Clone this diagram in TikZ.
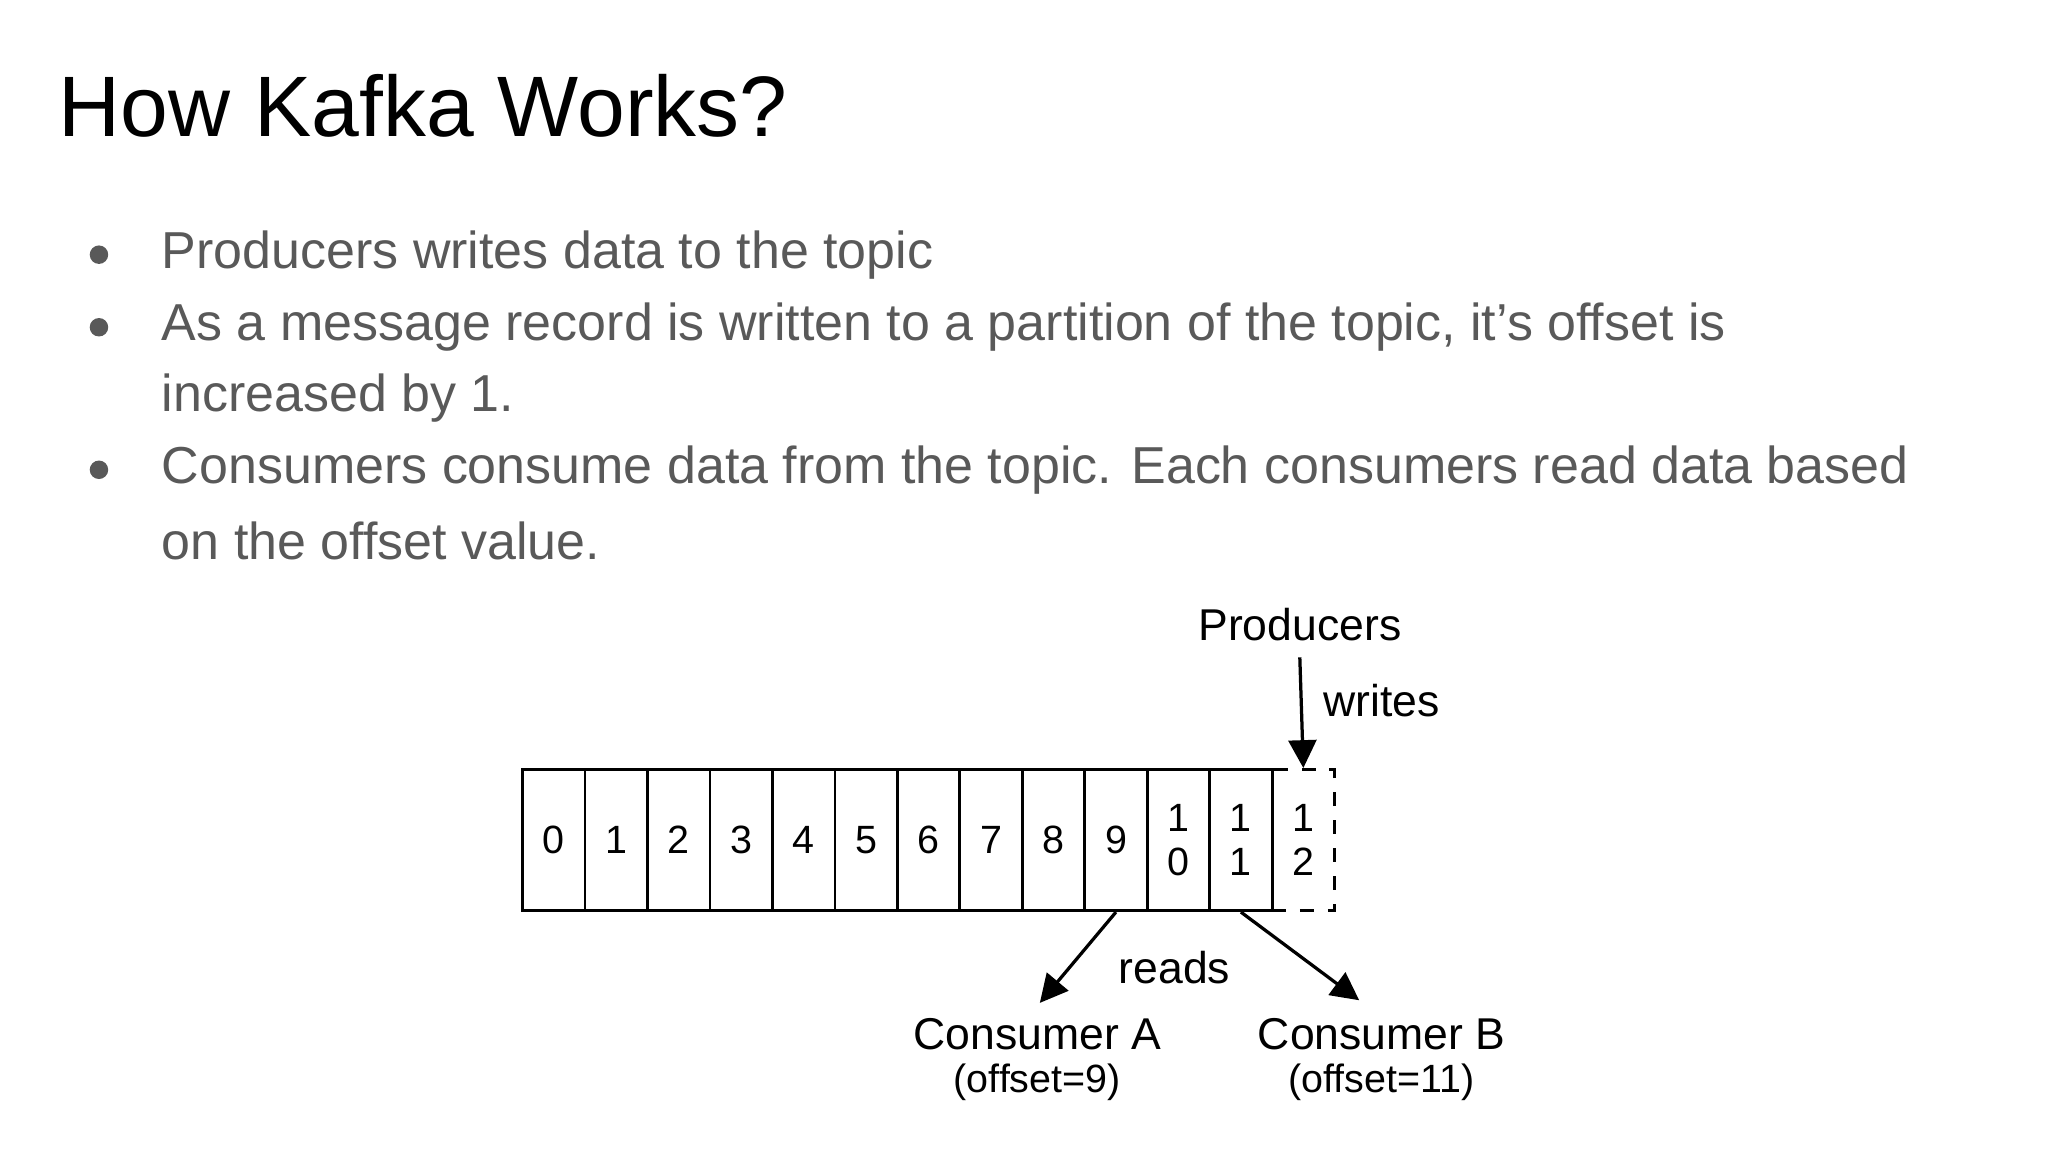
\documentclass[tikz,border=0pt]{standalone}
\usepackage{fontspec}
\setmainfont{Liberation Sans}
\usetikzlibrary{arrows.meta}
\definecolor{bul}{HTML}{595959}
\tikzset{
 cell/.style={draw,line width=0.6pt,minimum width=0.473cm,minimum height=1.07cm,inner sep=0pt,anchor=north west,font=\fontsize{8.5}{9.5}\selectfont,align=center},
 btxt/.style={anchor=west,text=bul,font=\fontsize{11.2}{13}\selectfont,inner sep=0pt},
 dlab/.style={font=\fontsize{9.6}{11}\selectfont,inner sep=0pt},
 arr/.style={-{Triangle[length=6pt,width=6pt]},line width=0.7pt}
}
\begin{document}
\begin{tikzpicture}[x=0.01cm,y=-0.01cm]
\useasboundingbox (0,0) rectangle (1552,873);
\node[anchor=west,inner sep=0pt,font=\fontsize{18.5}{20}\selectfont] (title) at (44,80) {How Kafka Works?};
\foreach \y in {193,248,356} \fill[bul] (75,\y) circle (7);
\node[btxt] (b1) at (122,193) {Producers writes data to the topic};
\node[btxt] (b2) at (122,248) {As a message record is written to a partition of the topic, it’s offset is};
\node[btxt] (b2b) at (122,302) {increased by 1.};
\node[btxt] (b3) at (122,356) {Consumers consume data from the topic. Each consumers read data based};
\node[btxt] (b3b) at (122,410) {on the offset value.};
\foreach \i/\t in {0/0,1/1,2/2,3/3,4/4,5/5,6/6,7/7,8/8,9/9,10/{1\\0},11/{1\\1}}
  \node[cell] (c\i) at ({395+47.33*\i},582) {\t};
\node[cell,dashed] (c12) at ({395+47.33*12},582) {1\\2};
\node[dlab] (prod) at (985,473) {Producers};
\node[dlab] (wr) at (1047,531) {writes};
\draw[arr] (prod.south) ++(0,12) coordinate (ps) -- (c12.north);
\node[dlab] (rd) at (890,733) {reads};
\node[dlab] (ca) at (786,784) {Consumer A};
\node[dlab,font=\fontsize{8.5}{10}\selectfont] (oa) at (786,820) {(offset=9)};
\node[dlab] (cb) at (1047,784) {Consumer B};
\node[dlab,font=\fontsize{8.5}{10}\selectfont] (ob) at (1047,820) {(offset=11)};
\draw[arr] (c9.south) -- (788,760) coordinate (ea);
\draw[arr] (c11.south) -- (1030,758) coordinate (eb);
\end{tikzpicture}
\end{document}
